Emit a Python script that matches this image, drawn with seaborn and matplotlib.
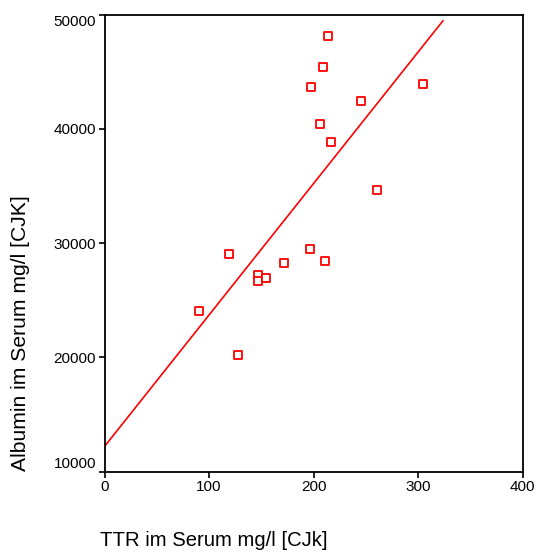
import numpy as np
import pandas as pd
import matplotlib
matplotlib.use("Agg")
import matplotlib.pyplot as plt
import seaborn as sns

ttr = [213.4, 209.2, 197.7, 304.9, 245.3, 206.0, 216.8, 261.2, 119.6,
       196.2, 171.6, 210.8, 147.0, 147.0, 154.4, 90.5, 128.2]
albumin = [48159, 45389, 43662, 43925, 42461, 40445, 38867, 34633, 29084,
           29461, 28260, 28409, 27243, 26682, 26945, 24026, 20169]
fit_intercept = 12190
fit_slope = 115.1
fit_x = [0, 324]
x_ticks = [0, 100, 200, 300, 400]
y_ticks = [10000, 20000, 30000, 40000, 50000]
x_label = "TTR im Serum mg/l [CJk]"
y_label = "Albumin im Serum mg/l [CJK]"

sns.set_style("white")
plt.rcParams['font.family'] = ['Liberation Sans', 'DejaVu Sans']
plt.rcParams['text.color'] = 'black'
plt.rcParams['xtick.color'] = 'black'
plt.rcParams['ytick.color'] = 'black'

W, H = 539, 556
fig = plt.figure(figsize=(W / 100, H / 100), dpi=100)
left, right, top, bottom = 104.5, 522.5, 14.7, 471.5
ax = fig.add_axes([left / W, 1 - bottom / H, (right - left) / W, (bottom - top) / H])

df = pd.DataFrame({"ttr": ttr, "albumin": albumin})
sns.scatterplot(data=df, x="ttr", y="albumin", ax=ax, marker="s", s=36,
                facecolor="white", edgecolor="#ff0000", linewidth=1.3, zorder=3)
fx = np.array(fit_x, dtype=float)
sns.lineplot(x=fx, y=fit_intercept + fit_slope * fx, ax=ax, color="#ff0000",
             linewidth=1.2, zorder=2)

ax.set_xlim(0, 400)
ax.set_ylim(10000, 50000)
ax.set_xticks(x_ticks)
ax.set_yticks(y_ticks)
ax.set_xticklabels([str(v) for v in x_ticks])
ax.set_yticklabels([str(v) for v in y_ticks])
ax.set_xlabel("")
ax.set_ylabel("")
ax.tick_params(axis="both", direction="out", length=4, width=1.2, labelsize=11,
               color="black", labelcolor="black", bottom=True, left=True,
               top=False, right=False, pad=2)
ylabs = ax.get_yticklabels()
ylabs[0].set_va("bottom")
ylabs[-1].set_va("top")
for sp in ax.spines.values():
    sp.set_visible(True)
    sp.set_color("black")
    sp.set_linewidth(1.3)

fig.text(100 / W, 1 - 540 / H, x_label, fontsize=14.6, ha="left", va="center",
         color="black")
fig.text(21 / W, 1 - 471 / H, y_label, fontsize=15.2, rotation=90,
         ha="center", va="bottom", color="black")

fig.savefig("out.png", dpi=100, facecolor="white")
